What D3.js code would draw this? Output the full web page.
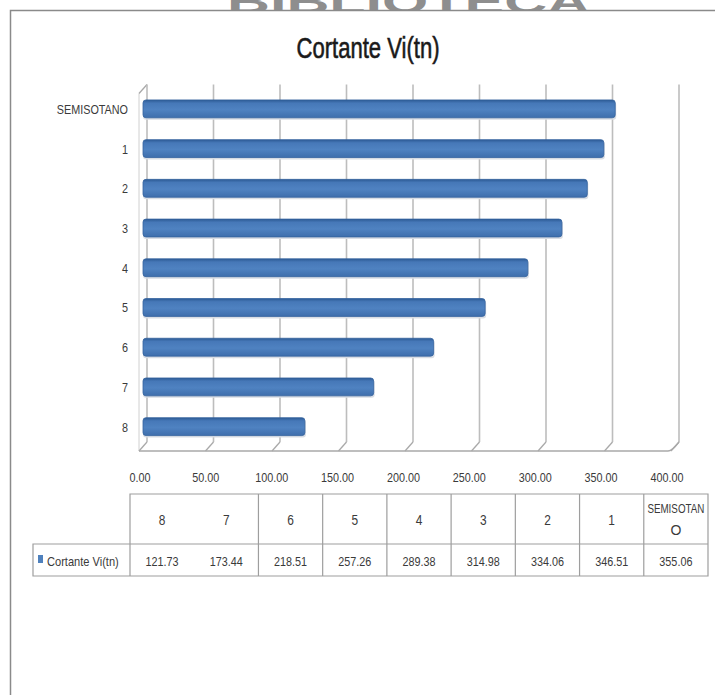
<!DOCTYPE html>
<html><head><meta charset="utf-8">
<script src="https://cdn.jsdelivr.net/npm/d3@7"></script>
<style>html,body{margin:0;padding:0;background:#fff;}svg{display:block;}</style>
</head><body>
<svg id="chart" width="715" height="695"></svg>
<script>
// ---- data ----
const categories = ["SEMISOTANO","1","2","3","4","5","6","7","8"];
const values = [355.06,346.51,334.06,314.98,289.38,257.26,218.51,173.44,121.73];
const seriesName = "Cortante Vi(tn)";
const chartTitle = "Cortante Vi(tn)";
const xTicks = [0,50,100,150,200,250,300,350,400];
const tableCategories = ["8","7","6","5","4","3","2","1","SEMISOTANO"];
const tableValues = [121.73,173.44,218.51,257.26,289.38,314.98,334.06,346.51,355.06];
const watermark = "BIBLIOTECA";

const svg = d3.select("#chart");
const FONT = "'Liberation Sans', Arial, sans-serif";
const TXT = "#3a3a3a";
function narrow(sel, k){
  sel.each(function(){
    const w = this.getComputedTextLength();
    if (w > 0) d3.select(this).attr("textLength", w * k).attr("lengthAdjust", "spacingAndGlyphs");
  });
}

const defs = svg.append("defs");
defs.append("clipPath").attr("id","wmclip").append("rect").attr("x",0).attr("y",0).attr("width",715).attr("height",10);
const grad = defs.append("linearGradient").attr("id","barg").attr("x1",0).attr("x2",0).attr("y1",0).attr("y2",1);
[["0%","#2c5a94"],["18%","#4678b8"],["55%","#4f82c1"],["100%","#3e6eac"]].forEach(s=>grad.append("stop").attr("offset",s[0]).attr("stop-color",s[1]));

// watermark (cut off at top edge, as in the source image)
svg.append("text").attr("clip-path","url(#wmclip)")
  .attr("x",227).attr("y",13).attr("textLength",363).attr("lengthAdjust","spacingAndGlyphs")
  .attr("font-family",FONT).attr("font-weight","bold").attr("font-size",34).attr("fill","#8e8e8e")
  .text(watermark);

// outer chart border
svg.append("path").attr("d","M10.5,695 L10.5,10.5 L715,10.5").attr("fill","none").attr("stroke","#8a8a8a").attr("stroke-width",1.5);

// title
svg.append("text").attr("x",368).attr("y",58).attr("text-anchor","middle")
  .attr("font-family",FONT).attr("font-size",29).attr("fill","#1a1a1a")
  .attr("stroke","#1a1a1a").attr("stroke-width",0.6)
  .attr("textLength",143).attr("lengthAdjust","spacingAndGlyphs")
  .text(chartTitle);

// scales (mid-depth plane for bars; back wall / front floor offset)
const x = d3.scaleLinear().domain([0,400]).range([143,675]);
const xLabel = d3.scaleLinear().domain([0,400]).range([140,667]);
const y = d3.scaleBand().domain(categories).range([89,446.5]).paddingInner(0.55).paddingOuter(0.275);
const DX = 4, DY = 4.5;
const yTop = 89, yBot = 446.5;

const grid = svg.append("g");
grid.append("line").attr("x1",x(0)-DX).attr("y1",yTop+DY).attr("x2",x(0)-DX).attr("y2",yBot+DY).attr("stroke","#d0d0d0").attr("stroke-width",1);
grid.append("line").attr("x1",x(0)-DX).attr("y1",yTop+DY).attr("x2",x(0)+DX).attr("y2",yTop-DY).attr("stroke","#a8a8a8").attr("stroke-width",1.3);
grid.selectAll(".vg").data(xTicks).join("line")
  .attr("x1",d=>x(d)+DX).attr("x2",d=>x(d)+DX).attr("y1",yTop-DY).attr("y2",yBot-DY)
  .attr("stroke","#bdbdbd").attr("stroke-width",1.6);
grid.selectAll(".fd").data(xTicks).join("line")
  .attr("x1",d=>x(d)+DX).attr("y1",yBot-DY).attr("x2",d=>x(d)-DX).attr("y2",yBot+DY)
  .attr("stroke","#a9a9a9").attr("stroke-width",1.3);
grid.append("path")
  .attr("d",`M${x(0)-DX},${yBot+DY} L${x(400)-DX-3},${yBot+DY} Q${x(400)-DX+1},${yBot+DY} ${x(400)+DX},${yBot-DY}`)
  .attr("fill","none").attr("stroke","#a9a9a9").attr("stroke-width",1.3);

// bars
const bars = svg.append("g");
bars.selectAll(".sh").data(categories).join("rect")
  .attr("x",x(0)).attr("y",d=>y(d)+2).attr("width",(d,i)=>x(values[i])-x(0)+1).attr("height",y.bandwidth())
  .attr("rx",3).attr("fill","#d9dde4");
bars.selectAll(".bar").data(categories).join("rect")
  .attr("x",x(0)).attr("y",d=>y(d)).attr("width",(d,i)=>x(values[i])-x(0)).attr("height",y.bandwidth())
  .attr("rx",3).attr("fill","url(#barg)").attr("stroke","#35639e").attr("stroke-width",0.8);

// category labels
const cl = svg.append("g").selectAll("text").data(categories).join("text")
  .attr("x",128).attr("y",d=>y(d)+y.bandwidth()/2+5).attr("text-anchor","end")
  .attr("font-family",FONT).attr("font-size",13.5).attr("fill",TXT).text(d=>d);
narrow(cl,0.8);

// x tick labels
const fmt = d3.format(".2f");
const xl = svg.append("g").selectAll("text").data(xTicks).join("text")
  .attr("x",d=>xLabel(d)).attr("y",482).attr("text-anchor","middle")
  .attr("font-family",FONT).attr("font-size",13.5).attr("fill",TXT).text(d=>fmt(d));
narrow(xl,0.8);

// data table
const col = d3.scaleBand().domain(tableCategories).range([130,708]);
const tY0 = 494, tY1 = 544, tY2 = 576, legX = 33;
const tg = svg.append("g").attr("stroke","#9e9e9e").attr("stroke-width",1.2).attr("fill","none");
tg.append("path").attr("d",`M${col.range()[0]},${tY2} L${col.range()[0]},${tY0} L${col.range()[1]},${tY0} L${col.range()[1]},${tY2} L${legX},${tY2} L${legX},${tY1} L${col.range()[1]},${tY1}`);
tg.selectAll(".sep").data(tableCategories.slice(2)).join("line")
  .attr("x1",d=>col(d)).attr("x2",d=>col(d)).attr("y1",tY0).attr("y2",tY2);

const hdr = svg.append("g").selectAll("text").data(tableCategories).join("text")
  .attr("x",d=>col(d)+col.bandwidth()/2).attr("text-anchor","middle")
  .attr("font-family",FONT).attr("font-size",14).attr("fill",TXT);
hdr.each(function(d){
  const t = d3.select(this);
  if (d.length > 8) {
    const a = d.slice(0, d.length-1), b = d.slice(d.length-1);
    t.append("tspan").attr("x",col(d)+col.bandwidth()/2).attr("y",513).attr("font-size",13).text(a);
    t.append("tspan").attr("x",col(d)+col.bandwidth()/2).attr("y",535).text(b);
  } else {
    t.attr("y",525).text(d);
  }
});
hdr.filter(d=>d.length>8).select("tspan").each(function(){
  const w=this.getComputedTextLength(); d3.select(this).attr("textLength",Math.min(w*0.8,57)).attr("lengthAdjust","spacingAndGlyphs");
});
narrow(hdr.filter(d=>d.length<=8),0.85);

const vals = svg.append("g").selectAll("text").data(tableValues).join("text")
  .attr("x",(d,i)=>col(tableCategories[i])+col.bandwidth()/2).attr("y",566).attr("text-anchor","middle")
  .attr("font-family",FONT).attr("font-size",13.5).attr("fill",TXT).text(d=>fmt(d));
narrow(vals,0.8);

// legend cell
defs.append("clipPath").attr("id","legclip").append("rect").attr("x",legX).attr("y",tY1).attr("width",col.range()[0]-legX-1).attr("height",tY2-tY1);
svg.append("rect").attr("x",38).attr("y",555).attr("width",5).attr("height",8).attr("fill","#4f81bd");
const lt = svg.append("text").attr("clip-path","url(#legclip)").attr("x",47).attr("y",566)
  .attr("font-family",FONT).attr("font-size",13.5).attr("fill",TXT).text(seriesName);
narrow(lt,0.82);
</script>
</body></html>
